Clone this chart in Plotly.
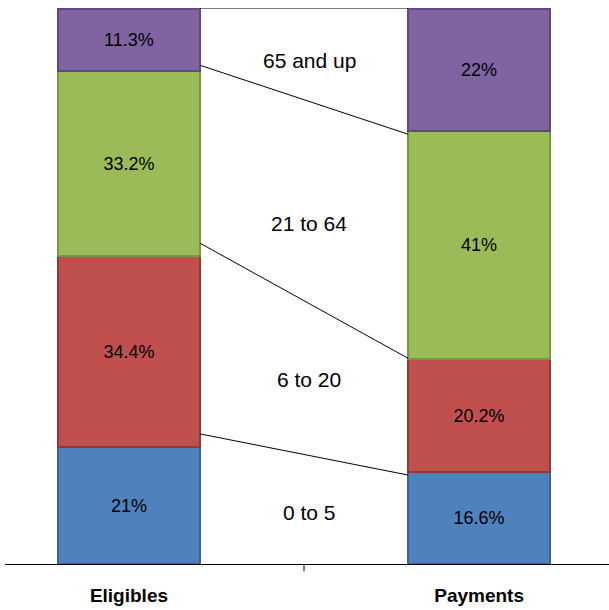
import plotly.graph_objects as go

categories = ["Eligibles", "Payments"]
groups = ["0 to 5", "6 to 20", "21 to 64", "65 and up"]
values = {
    "0 to 5": [21.0, 16.6],
    "6 to 20": [34.4, 20.2],
    "21 to 64": [33.2, 41.0],
    "65 and up": [11.3, 22.0],
}
value_labels = {
    "0 to 5": ["21%", "16.6%"],
    "6 to 20": ["34.4%", "20.2%"],
    "21 to 64": ["33.2%", "41%"],
    "65 and up": ["11.3%", "22%"],
}
fills = {"0 to 5": "#4F81BD", "6 to 20": "#C0504D", "21 to 64": "#9BBB59", "65 and up": "#8064A2"}
edges = {"0 to 5": "#3A6394", "6 to 20": "#8E3A38", "21 to 64": "#789443", "65 and up": "#5E4A7E"}

# connector lines (percent at Eligibles side, percent at Payments side), as drawn
connector_left = [100.0, 89.7, 57.7, 23.4]
connector_right = [100.0, 77.3, 37.0, 16.0]
group_label_y = [9.2, 33.1, 61.3, 90.6]

FONT = "Liberation Sans, Arial, sans-serif"
BAR_W = 0.406
fig = go.Figure()
for g in groups:
    fig.add_trace(go.Bar(
        x=[0, 1], y=values[g], width=BAR_W,
        marker=dict(color=fills[g], line=dict(color=edges[g], width=2)),
        text=value_labels[g], textposition="inside", insidetextanchor="middle",
        textfont=dict(color="black", size=18, family=FONT),
        textangle=0, constraintext="none", showlegend=False, hoverinfo="skip",
    ))

for l, r in zip(connector_left, connector_right):
    fig.add_trace(go.Scatter(
        x=[BAR_W / 2, 1 - BAR_W / 2], y=[l, r], mode="lines",
        line=dict(color="black", width=1), showlegend=False, hoverinfo="skip",
    ))

for g, yv in zip(groups, group_label_y):
    fig.add_annotation(x=0.515, y=yv, text=g, showarrow=False,
                       font=dict(size=21, color="black", family=FONT))

fig.update_layout(
    barmode="stack", width=609, height=610,
    margin=dict(l=5, r=0, t=8, b=46),
    paper_bgcolor="white", plot_bgcolor="white",
    xaxis=dict(
        tickmode="array", tickvals=[0, 1],
        ticktext=["<b>" + c + "</b>" for c in categories],
        range=[-0.354, 1.371], showline=True, linecolor="black", linewidth=1,
        ticks="", showgrid=False, zeroline=False, ticklabelstandoff=14,
        tickfont=dict(size=19, family=FONT, color="black"),
    ),
    yaxis=dict(range=[0, 100], visible=False),
)
fig.add_shape(type="line", xref="x", yref="paper", x0=0.5, x1=0.5, y0=0, y1=-0.013,
              line=dict(color="black", width=1))
fig.write_html("out.html")
